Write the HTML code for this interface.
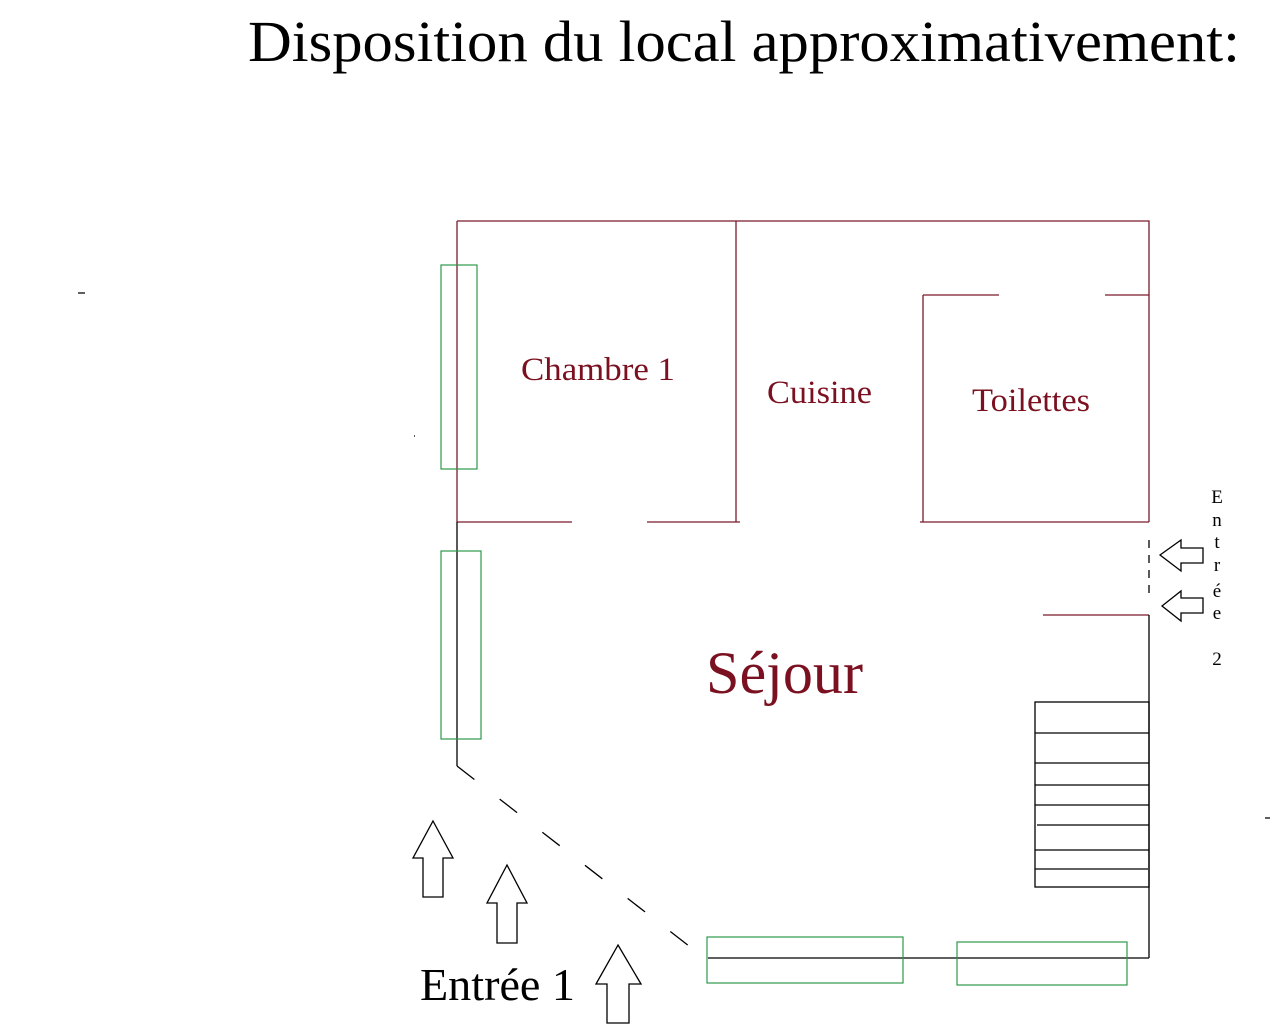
<!DOCTYPE html>
<html><head><style>html,body{margin:0;padding:0;background:#fff}svg{display:block}</style></head><body>
<svg width="1284" height="1034" xmlns="http://www.w3.org/2000/svg" font-family="Liberation Serif, serif">
<text x="248" y="61" font-size="58" fill="#000" textLength="992" lengthAdjust="spacingAndGlyphs">Disposition du local approximativement:</text>
<g stroke="#7a1a2a" stroke-width="1.3" fill="none">
<path d="M457 221H1149V522M457 221V522M736 221V522M457 522H572M647 522H740M920 522H1149M923 295V522M923 295H999M1105 295H1149M1043 615H1149"/>
</g>
<g stroke="#000" stroke-width="1.3" fill="none">
<path d="M457 522V766M1149 615V958M708 958H1149"/>
<path d="M1149 540V600" stroke-dasharray="8,7"/>
<path d="M457 766L707 960" stroke-dasharray="22,32"/>
<rect x="1035" y="702" width="114" height="185"/>
<path d="M1035 733H1149M1035 763H1149M1035 785H1149M1035 805H1149M1037 825H1149M1035 850H1149M1035 869H1148"/>
<path d="M433 821L453 858H443V897H423V858H413Z"/>
<path d="M507 865L527 903H517V943H497V903H487Z"/>
<path d="M618 945L641 984H629V1023H607V984H596Z"/>
<path d="M1160 555L1181 540V548H1203V563H1181V571Z"/>
<path d="M1162 606L1181 591V598H1203V613H1181V621Z"/>
<path d="M78 293H85M1265 818H1270M414 436H415"/>
</g>
<g stroke="#2e9a4a" stroke-width="1.2" fill="none">
<rect x="441" y="265" width="36" height="204"/>
<rect x="441" y="551" width="40" height="188"/>
<rect x="707" y="937" width="196" height="46"/>
<rect x="957" y="942" width="170" height="43"/>
</g>
<g fill="#7a1020">
<text x="521" y="380" font-size="33" textLength="154" lengthAdjust="spacingAndGlyphs">Chambre 1</text>
<text x="767" y="403" font-size="33" textLength="105" lengthAdjust="spacingAndGlyphs">Cuisine</text>
<text x="972" y="411" font-size="33" textLength="118" lengthAdjust="spacingAndGlyphs">Toilettes</text>
<text x="706" y="693" font-size="60" textLength="157" lengthAdjust="spacingAndGlyphs">Séjour</text>
</g>
<text x="420" y="1000" font-size="45" fill="#000" textLength="155" lengthAdjust="spacingAndGlyphs">Entrée 1</text>
<g font-size="19" fill="#000" text-anchor="middle">
<text x="1217" y="503">E</text><text x="1217" y="526">n</text><text x="1217" y="548">t</text>
<text x="1217" y="571">r</text><text x="1217" y="597">é</text><text x="1217" y="619">e</text>
<text x="1217" y="665">2</text>
</g>
</svg>
</body></html>
